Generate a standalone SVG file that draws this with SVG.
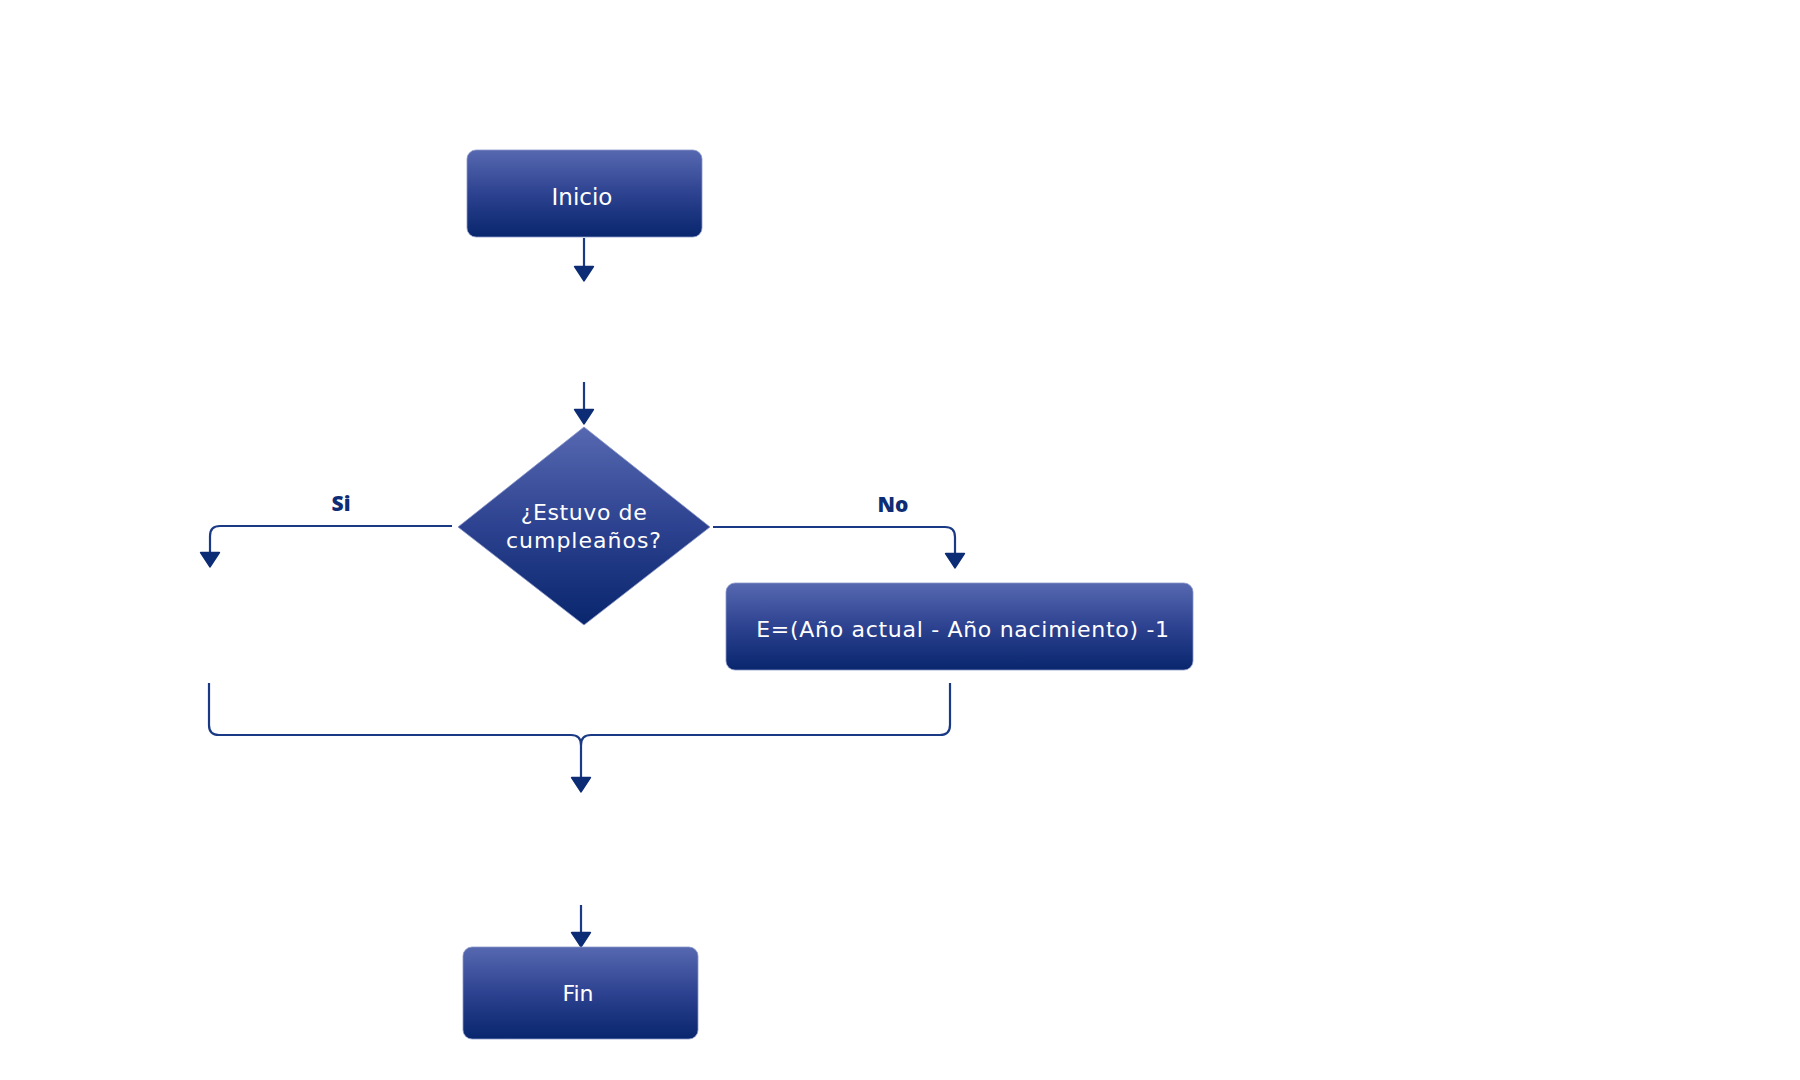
<svg xmlns="http://www.w3.org/2000/svg" width="1800" height="1080" viewBox="0 0 1800 1080">
  <defs>
    <linearGradient id="boxFill" x1="0" y1="0" x2="0" y2="1">
      <stop offset="0" stop-color="#5668b0"/>
      <stop offset="0.5" stop-color="#2d4290"/>
      <stop offset="1" stop-color="#08266d"/>
    </linearGradient>
    <marker id="arrow" markerUnits="userSpaceOnUse" markerWidth="20" markerHeight="22" viewBox="-1 -10 16 20" refX="4" refY="0" orient="auto">
      <path d="M0,-8.5 L13,0 L0,8.5 Z" fill="#0c2d75" stroke="#0c2d75" stroke-width="1.5" stroke-linejoin="round"/>
    </marker>
    <style>
      .box { fill: url(#boxFill); stroke: #8a97c9; stroke-width: 0.8; }
      .label { font-family: "DejaVu Sans", "Open Sans", sans-serif; fill: #ffffff; text-anchor: middle; }
      .branch { font-family: "Open Sans", "Noto Sans", sans-serif; font-weight: 800; fill: #0d2c75; font-size: 21px; text-anchor: middle; }
      .wire { fill: none; stroke: #1b3a85; stroke-width: 2.2; marker-end: url(#arrow); }
      .wire-plain { fill: none; stroke: #1b3a85; stroke-width: 2.2; }
    </style>
  </defs>

  <rect width="1800" height="1080" fill="#ffffff"/>

  <g id="connectors">
    <path class="wire" d="M584,238 V271"/>
    <path class="wire" d="M584,382 V414"/>
    <path class="wire" d="M452,526 H220 Q210,526 210,536 V557"/>
    <path class="wire" d="M713,527 H945 Q955,527 955,537 V558"/>
    <path class="wire-plain" d="M950,683 V725 Q950,735 940,735 H591 Q581,735 581,745"/>
    <path class="wire" d="M209,683 V725 Q209,735 219,735 H571 Q581,735 581,745 V782"/>
    <path class="wire" d="M581,905 V937"/>
    <text class="branch" x="341" y="511">Si</text>
    <text class="branch" x="893" y="512">No</text>
  </g>

  <g id="inicio">
    <rect class="box" x="467" y="150" width="235" height="87" rx="9"/>
    <text class="label" x="582" y="205" font-size="23">Inicio</text>
  </g>

  <g id="decision">
    <polygon class="box" points="584,427 710,527 584,625 458,527"/>
    <text class="label" x="584" y="520" font-size="22" letter-spacing="0.6">¿Estuvo de</text>
    <text class="label" x="584" y="548" font-size="22" letter-spacing="1">cumpleaños?</text>
  </g>

  <g id="calculo">
    <rect class="box" x="726" y="583" width="467" height="87" rx="9"/>
    <text class="label" x="963" y="637" font-size="22" letter-spacing="0.7">E=(Año actual - Año nacimiento) -1</text>
  </g>

  <g id="fin">
    <rect class="box" x="463" y="947" width="235" height="92" rx="9"/>
    <text class="label" x="578" y="1001" font-size="22">Fin</text>
  </g>
</svg>
